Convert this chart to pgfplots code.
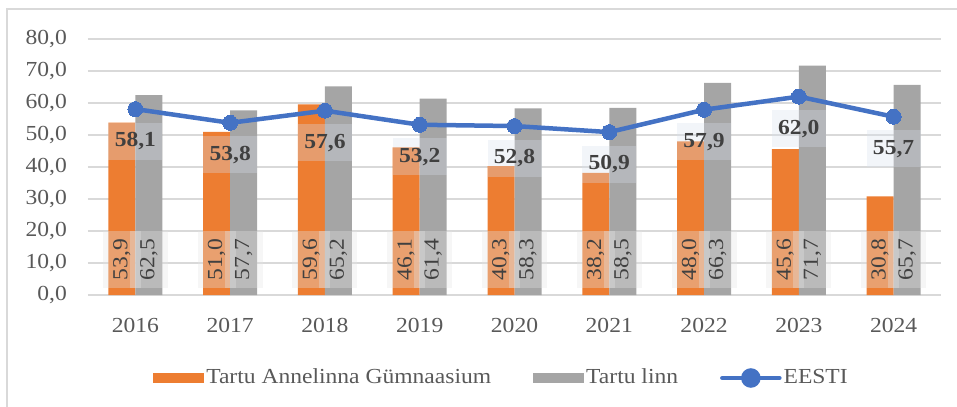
\documentclass[border=0pt]{standalone}
\usepackage{fontspec}
\setmainfont{Liberation Serif}[FakeStretch=1.1]
\usepackage{pgfplots}
\usepackage{pgfplotstable}
\pgfplotsset{compat=1.18}
\definecolor{cOr}{HTML}{ED7D31}
\definecolor{cGr}{HTML}{A5A5A5}
\definecolor{cBl}{HTML}{4472C4}
\definecolor{cGrid}{HTML}{D9D9D9}
\definecolor{cTick}{HTML}{595959}
\definecolor{cTxt}{HTML}{404040}
\definecolor{cLab}{HTML}{D8E0EC}
\definecolor{cBox}{HTML}{E4E4E4}
\pgfplotstableread{
x a b e
0 53.9 62.5 58.1
1 51.0 57.7 53.8
2 59.6 65.2 57.6
3 46.1 61.4 53.2
4 40.3 58.3 52.8
5 38.2 58.5 50.9
6 48.0 66.3 57.9
7 45.6 71.7 62.0
8 30.8 65.7 55.7
}\data
\begin{document}
\fontsize{21.5}{25}\selectfont
\begin{tikzpicture}
\useasboundingbox (-88bp,-112bp) rectangle (869bp,295bp);
\draw[cGrid, line width=1.5bp] (-81bp,-115bp) -- (-81bp,286bp) -- (875bp,286bp);
\begin{axis}[
  at={(0,0)}, anchor=south west,
  scale only axis, width=853bp, height=256bp,
  xmin=-0.5, xmax=8.5, ymin=0, ymax=80,
  ytick={0,10,...,80},
  xtick={0,...,8},
  xticklabels={2016,2017,2018,2019,2020,2021,2022,2023,2024},
  major tick length=0pt,
  axis line style={draw=none},
  ymajorgrids, grid style={cGrid, line width=1.4bp},
  tick label style={text=cTick},
  yticklabel style={inner sep=0pt, anchor=east, xshift=-21bp},
  xticklabel style={inner sep=0pt, anchor=north, yshift=-23bp},
  /pgf/number format/.cd, use comma, fixed, fixed zerofill, precision=1, assume math mode=true,
  /pgfplots/.cd,
  clip=false,
  legend columns=3,
  legend style={at={(0.5,0)}, anchor=center, xshift=-13bp, yshift=-83bp, draw=none, fill=none,
    text=cTick, /tikz/every even column/.append style={column sep=40bp}},
]
\addplot[ybar, bar width=27bp, bar shift=-13.5bp, fill=cOr, draw=none,
  legend image code/.code={\fill[cOr] (0bp,-5bp) rectangle (51bp,5bp);}]
  table[x=x, y=a] {\data};
\addlegendentry{Tartu Annelinna Gümnaasium}
\addplot[ybar, bar width=27bp, bar shift=13.5bp, fill=cGr, draw=none,
  legend image code/.code={\fill[cGr] (0bp,-5bp) rectangle (51bp,5bp);}]
  table[x=x, y=b] {\data};
\addlegendentry{Tartu linn}
\addplot[forget plot, only marks, mark=none, point meta=explicit,
  nodes near coords,
  every node near coord/.append style={rotate=90, anchor=center, text=cTxt,
    fill=cBox, fill opacity=0.35, text opacity=1, inner sep=0pt,
    minimum width=57bp, minimum height=38bp}]
  table[x expr=\thisrow{x}-0.1425, y expr=11, meta=a] {\data};
\addplot[forget plot, only marks, mark=none, point meta=explicit,
  nodes near coords,
  every node near coord/.append style={rotate=90, anchor=center, text=cTxt,
    fill=cBox, fill opacity=0.35, text opacity=1, inner sep=0pt,
    minimum width=57bp, minimum height=38bp}]
  table[x expr=\thisrow{x}+0.1425, y expr=11, meta=b] {\data};
\addplot[cBl, line width=4.5bp, mark=*, mark size=7.5bp,
  mark options={fill=cBl, draw=cBl, line width=0pt},
  nodes near coords, point meta=y,
  every node near coord/.append style={font=\bfseries, text=cTxt, anchor=center,
    yshift=-32bp, fill=cLab, fill opacity=0.32, text opacity=1, inner sep=0pt,
    minimum width=54bp, minimum height=37bp},
  legend image code/.code={\draw[cBl, line width=4.5bp, line cap=round] (0bp,0bp) -- (57bp,0bp);
    \fill[cBl] (28.5bp,0bp) circle (7.5bp);}]
  table[x=x, y=e] {\data};
\addlegendentry{EESTI}
\end{axis}
\end{tikzpicture}
\end{document}
